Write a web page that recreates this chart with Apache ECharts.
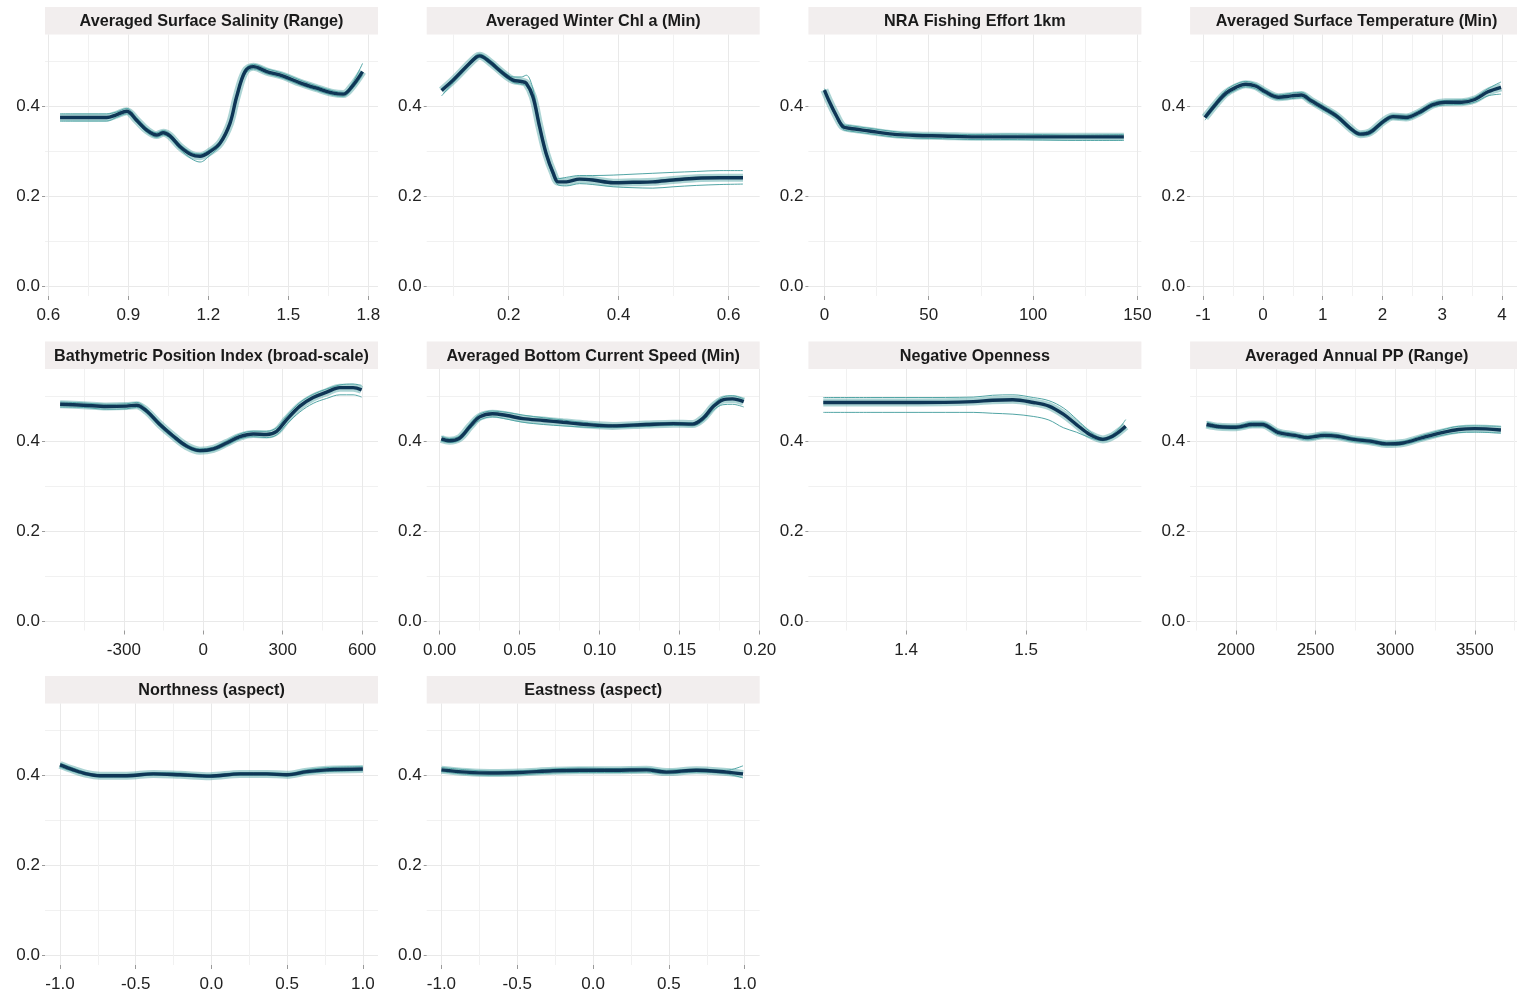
<!DOCTYPE html>
<html><head><meta charset="utf-8">
<script src="https://cdn.jsdelivr.net/npm/echarts@6/dist/echarts.min.js"></script>
<style>html,body{margin:0;padding:0;background:#fff}#c{width:1517px;height:995px}</style>
</head><body><div id="c"></div>
<script>
// ---------- Data ----------
const titles = ['Averaged Surface Salinity (Range)','Averaged Winter Chl a (Min)','NRA Fishing Effort 1km','Averaged Surface Temperature (Min)','Bathymetric Position Index (broad-scale)','Averaged Bottom Current Speed (Min)','Negative Openness','Averaged Annual PP (Range)','Northness (aspect)','Eastness (aspect)'];

const yTicks = [0.0, 0.2, 0.4];
const yMinor = [0.1, 0.3, 0.5];

// 1 Salinity
const salX    = [0.644,0.70,0.76,0.819,0.855,0.894,0.931,0.969,1.006,1.031,1.056,1.094,1.1375,1.169,1.206,1.244,1.281,1.306,1.3375,1.369,1.419,1.481,1.544,1.606,1.669,1.706,1.7375,1.778];
const salMean = [0.376,0.376,0.376,0.376,0.382,0.390,0.370,0.348,0.337,0.342,0.335,0.311,0.293,0.290,0.300,0.319,0.363,0.422,0.478,0.489,0.478,0.468,0.453,0.441,0.430,0.428,0.444,0.478];
const salHi   = [0.384,0.384,0.384,0.384,0.388,0.396,0.376,0.353,0.342,0.347,0.340,0.316,0.298,0.295,0.305,0.324,0.368,0.428,0.484,0.494,0.484,0.474,0.459,0.446,0.435,0.432,0.450,0.496];
const salLo   = [0.368,0.368,0.368,0.368,0.376,0.384,0.365,0.343,0.332,0.337,0.330,0.305,0.284,0.277,0.292,0.314,0.358,0.416,0.472,0.484,0.473,0.463,0.448,0.436,0.425,0.423,0.438,0.470];
const salTicks = [0.6,0.9,1.2,1.5,1.8];
const salMinor = [0.75,1.05,1.35,1.65];

// 2 Winter Chl a
const chlX    = [0.078,0.099,0.123,0.141,0.147,0.165,0.190,0.208,0.223,0.232,0.244,0.256,0.268,0.281,0.290,0.305,0.329,0.353,0.390,0.426,0.462,0.499,0.541,0.584,0.626];
const chlMean = [0.436,0.459,0.489,0.510,0.513,0.500,0.474,0.459,0.456,0.452,0.422,0.356,0.296,0.252,0.233,0.233,0.239,0.237,0.231,0.232,0.233,0.237,0.241,0.242,0.242];
const chlHi   = [0.440,0.463,0.493,0.515,0.517,0.505,0.479,0.466,0.466,0.470,0.440,0.365,0.303,0.258,0.240,0.243,0.247,0.247,0.248,0.250,0.252,0.254,0.256,0.258,0.258];
const chlLo   = [0.424,0.453,0.484,0.506,0.509,0.495,0.469,0.454,0.450,0.446,0.416,0.350,0.290,0.245,0.226,0.224,0.229,0.227,0.222,0.220,0.219,0.222,0.225,0.227,0.228];
const chlTicks = [0.2,0.4,0.6];
const chlMinor = [0.1,0.3,0.5];

// 3 Fishing effort
const fishX    = [0,2.4,5.6,8.8,12,21.5,32.7,43.9,56.6,72.6,88.5,104.5,120.4,143.5];
const fishMean = [0.437,0.411,0.381,0.356,0.352,0.346,0.339,0.336,0.335,0.333,0.333,0.333,0.333,0.333];
const fishHi   = [0.440,0.414,0.385,0.361,0.358,0.352,0.345,0.340,0.339,0.338,0.339,0.338,0.337,0.338];
const fishLo   = [0.433,0.407,0.376,0.350,0.346,0.340,0.333,0.330,0.329,0.327,0.327,0.326,0.325,0.325];
const fishTicks = [0,50,100,150];
const fishMinor = [25,75,125];

// 4 Surface temperature
const tempX    = [-0.97,-0.78,-0.617,-0.452,-0.288,-0.124,0.04,0.26,0.479,0.643,0.807,1.026,1.245,1.464,1.629,1.793,2.012,2.176,2.395,2.614,2.834,3.053,3.326,3.545,3.765,3.984];
const tempMean = [0.376,0.407,0.430,0.443,0.450,0.446,0.433,0.421,0.424,0.426,0.413,0.396,0.378,0.352,0.339,0.343,0.367,0.378,0.376,0.387,0.404,0.410,0.410,0.416,0.433,0.443];
const tempHi   = [0.381,0.413,0.437,0.450,0.456,0.451,0.438,0.426,0.430,0.432,0.418,0.401,0.383,0.356,0.343,0.348,0.371,0.382,0.381,0.392,0.409,0.414,0.415,0.421,0.440,0.455];
const tempLo   = [0.370,0.401,0.424,0.437,0.444,0.440,0.428,0.416,0.418,0.420,0.407,0.391,0.373,0.347,0.335,0.338,0.362,0.373,0.371,0.382,0.399,0.404,0.405,0.410,0.424,0.428];
const tempTicks = [-1,0,1,2,3,4];
const tempMinor = [-0.5,0.5,1.5,2.5,3.5];

// 5 BPI
const bpiX    = [-541,-453,-365,-290,-252,-214,-164,-113,-63,-13,38,88,138,189,239,277,315,365,415,466,516,566,598];
const bpiMean = [0.482,0.480,0.477,0.478,0.480,0.467,0.437,0.411,0.389,0.379,0.383,0.396,0.410,0.416,0.415,0.422,0.448,0.478,0.497,0.509,0.519,0.519,0.514];
const bpiHi   = [0.487,0.485,0.482,0.483,0.486,0.472,0.442,0.415,0.393,0.383,0.387,0.401,0.416,0.422,0.422,0.430,0.456,0.486,0.504,0.516,0.525,0.527,0.524];
const bpiLo   = [0.476,0.475,0.471,0.472,0.475,0.462,0.432,0.406,0.385,0.376,0.379,0.391,0.405,0.410,0.408,0.414,0.438,0.465,0.484,0.495,0.503,0.503,0.498];
const bpiTicks = [-300,0,300,600];
const bpiMinor = [-450,-150,150,450];

// 6 Bottom current speed
const curX    = [0.001,0.006,0.0125,0.019,0.025,0.033,0.042,0.052,0.065,0.077,0.092,0.108,0.129,0.146,0.158,0.1646,0.171,0.177,0.183,0.190];
const curMean = [0.405,0.401,0.407,0.433,0.454,0.461,0.457,0.450,0.446,0.442,0.437,0.434,0.437,0.439,0.438,0.451,0.477,0.492,0.494,0.488];
const curHi   = [0.411,0.406,0.412,0.439,0.460,0.467,0.464,0.458,0.452,0.447,0.441,0.437,0.440,0.442,0.441,0.455,0.482,0.498,0.501,0.494];
const curLo   = [0.400,0.397,0.402,0.427,0.447,0.454,0.449,0.442,0.437,0.434,0.431,0.430,0.433,0.435,0.434,0.445,0.469,0.481,0.482,0.476];
const curTicks = [0,0.05,0.10,0.15,0.20];
const curMinor = [0.025,0.075,0.125,0.175];

// 7 Negative openness
const opnX    = [1.331,1.37,1.41,1.456,1.472,1.489,1.506,1.519,1.531,1.542,1.553,1.564,1.572,1.578,1.583];
const opnMean = [0.486,0.486,0.486,0.488,0.491,0.492,0.486,0.478,0.460,0.437,0.415,0.404,0.411,0.422,0.433];
const opnHi   = [0.497,0.497,0.497,0.498,0.502,0.503,0.497,0.490,0.474,0.449,0.422,0.407,0.415,0.430,0.448];
const opnLo   = [0.464,0.464,0.464,0.464,0.462,0.460,0.455,0.447,0.430,0.420,0.408,0.401,0.407,0.418,0.428];
const opnTicks = [1.4,1.5];
const opnMinor = [1.35,1.45,1.55];

// 8 Annual PP
const ppX    = [1815,1897,2000,2103,2164,2267,2370,2452,2555,2637,2740,2842,2945,3048,3171,3294,3397,3500,3664];
const ppMean = [0.437,0.432,0.431,0.437,0.437,0.419,0.413,0.408,0.413,0.411,0.404,0.400,0.394,0.396,0.408,0.419,0.426,0.428,0.425];
const ppHi   = [0.443,0.436,0.435,0.442,0.442,0.424,0.417,0.412,0.418,0.415,0.408,0.404,0.398,0.400,0.413,0.425,0.433,0.434,0.433];
const ppLo   = [0.432,0.428,0.427,0.432,0.432,0.414,0.408,0.403,0.408,0.406,0.399,0.395,0.390,0.392,0.403,0.413,0.419,0.420,0.418];
const ppTicks = [2000,2500,3000,3500];
const ppMinor = [1750,2250,2750,3250,3750];

// 9 Northness
const norX    = [-1.0,-0.912,-0.824,-0.736,-0.559,-0.383,-0.207,-0.009,0.189,0.366,0.498,0.63,0.762,1.0];
const norMean = [0.424,0.413,0.404,0.400,0.400,0.404,0.402,0.399,0.404,0.404,0.402,0.409,0.413,0.415];
const norHi   = [0.428,0.417,0.407,0.403,0.403,0.407,0.406,0.402,0.407,0.407,0.405,0.413,0.418,0.420];
const norLo   = [0.419,0.409,0.401,0.397,0.397,0.401,0.399,0.396,0.401,0.401,0.399,0.405,0.409,0.411];
const aspTicks = [-1.0,-0.5,0.0,0.5,1.0];
const aspMinor = [-0.75,-0.25,0.25,0.75];

// 10 Eastness
const eastX    = [-1.0,-0.835,-0.681,-0.484,-0.264,-0.088,0.132,0.352,0.484,0.681,0.879,0.989];
const eastMean = [0.413,0.408,0.406,0.407,0.411,0.412,0.412,0.413,0.408,0.412,0.408,0.404];
const eastHi   = [0.418,0.413,0.410,0.411,0.415,0.417,0.416,0.417,0.412,0.415,0.412,0.422];
const eastLo   = [0.409,0.403,0.401,0.402,0.406,0.407,0.407,0.408,0.404,0.408,0.404,0.395];

// ---------- Panel config ----------
const panels = [
  {x:salX, mean:salMean, hi:salHi, lo:salLo, ticks:salTicks, minor:salMinor, ext:[0.5876,1.836], dec:1},
  {x:chlX, mean:chlMean, hi:chlHi, lo:chlLo, ticks:chlTicks, minor:chlMinor, ext:[0.0509,0.6564], dec:1},
  {x:fishX, mean:fishMean, hi:fishHi, lo:fishLo, ticks:fishTicks, minor:fishMinor, ext:[-7.67,151.9], dec:0},
  {x:tempX, mean:tempMean, hi:tempHi, lo:tempLo, ticks:tempTicks, minor:tempMinor, ext:[-1.218,4.251], dec:0},
  {x:bpiX, mean:bpiMean, hi:bpiHi, lo:bpiLo, ticks:bpiTicks, minor:bpiMinor, ext:[-598,660], dec:0},
  {x:curX, mean:curMean, hi:curHi, lo:curLo, ticks:curTicks, minor:curMinor, ext:[-0.0081,0.2], dec:2},
  {x:opnX, mean:opnMean, hi:opnHi, lo:opnLo, ticks:opnTicks, minor:opnMinor, ext:[1.3186,1.5961], dec:1},
  {x:ppX, mean:ppMean, hi:ppHi, lo:ppLo, ticks:ppTicks, minor:ppMinor, ext:[1712,3765], dec:0},
  {x:norX, mean:norMean, hi:norHi, lo:norLo, ticks:aspTicks, minor:aspMinor, ext:[-1.099,1.1], dec:1},
  {x:eastX, mean:eastMean, hi:eastHi, lo:eastLo, ticks:aspTicks, minor:aspMinor, ext:[-1.097,1.099], dec:1}
];

const FONT = "'Liberation Sans', Arial, sans-serif";
const PW = 333, PH = 261.5, STRIP = 27.5;
const colLeft = c => 45 + c * 381.7;
const rowTop = r => 34.5 + r * 334.5;
const YMIN = -0.0207, YMAX = 0.5604;

const grids = [], xAxes = [], yAxes = [], series = [], graphics = [];
const zip = (xs, ys) => xs.map((v, k) => [v, ys[k]]);

panels.forEach((p, i) => {
  const c = i % 4, r = Math.floor(i / 4);
  const left = colLeft(c), top = rowTop(r);
  grids.push({left: left, top: top, width: PW, height: PH, containLabel: false});
  const fmt = v => Number(v).toFixed(p.dec);
  // major x
  xAxes.push({type:'value', gridIndex:i, min:p.ext[0], max:p.ext[1], position:'bottom',
    axisLine:{show:false, onZero:false},
    axisTick:{show:true, length:4, customValues:p.ticks, lineStyle:{color:'#9a9a9a', width:1}},
    axisLabel:{show:true, customValues:p.ticks, formatter:fmt, margin:11, color:'#222', fontSize:17, fontFamily:FONT, hideOverlap:false},
    splitLine:{show:true, lineStyle:{color:'#e9e9e9', width:1}}});
  // minor x
  xAxes.push({type:'value', gridIndex:i, min:p.ext[0], max:p.ext[1], position:'bottom',
    axisLine:{show:false, onZero:false}, axisLabel:{show:false},
    axisTick:{show:false, customValues:p.minor},
    splitLine:{show:true, lineStyle:{color:'#f1f1f1', width:1}}});
  // major y
  yAxes.push({type:'value', gridIndex:i, min:YMIN, max:YMAX, position:'left',
    axisLine:{show:false, onZero:false},
    axisTick:{show:true, length:3, customValues:yTicks, lineStyle:{color:'#9a9a9a', width:1}},
    axisLabel:{show:true, customValues:yTicks, formatter:v => Number(v).toFixed(1), margin:5, color:'#222', fontSize:17, fontFamily:FONT},
    splitLine:{show:true, lineStyle:{color:'#e9e9e9', width:1}}});
  // minor y
  yAxes.push({type:'value', gridIndex:i, min:YMIN, max:YMAX, position:'left',
    axisLine:{show:false, onZero:false}, axisLabel:{show:false},
    axisTick:{show:false, customValues:yMinor},
    splitLine:{show:true, lineStyle:{color:'#f1f1f1', width:1}}});

  const base = {type:'line', xAxisIndex:2*i, yAxisIndex:2*i, showSymbol:false, symbol:'none', smooth:0.35, animation:false, silent:true};
  series.push(Object.assign({}, base, {data:zip(p.x, p.mean), lineStyle:{color:'rgba(70,160,160,0.45)', width:8}, z:2}));
  series.push(Object.assign({}, base, {data:zip(p.x, p.hi), lineStyle:{color:'#52a5a5', width:1}, z:3}));
  series.push(Object.assign({}, base, {data:zip(p.x, p.lo), lineStyle:{color:'#52a5a5', width:1}, z:3}));
  series.push(Object.assign({}, base, {data:zip(p.x, p.mean), lineStyle:{color:'#0f3656', width:3.4}, z:4}));

  graphics.push({type:'rect', left:left, top:top - STRIP, shape:{x:0, y:0, width:PW, height:STRIP}, style:{fill:'#f2eeee'}, silent:true});
  graphics.push({type:'text', x:left + PW / 2, y:top - STRIP / 2 + 1, style:{text:titles[i], fill:'#1a1a1a', font:"bold 16.2px " + FONT, textAlign:'center', textVerticalAlign:'middle'}, silent:true});
});

const chart = echarts.init(document.getElementById('c'), null, {renderer:'canvas'});
chart.setOption({
  backgroundColor:'#ffffff',
  animation:false,
  grid:grids, xAxis:xAxes, yAxis:yAxes, series:series,
  graphic:graphics
});
</script>
</body></html>
